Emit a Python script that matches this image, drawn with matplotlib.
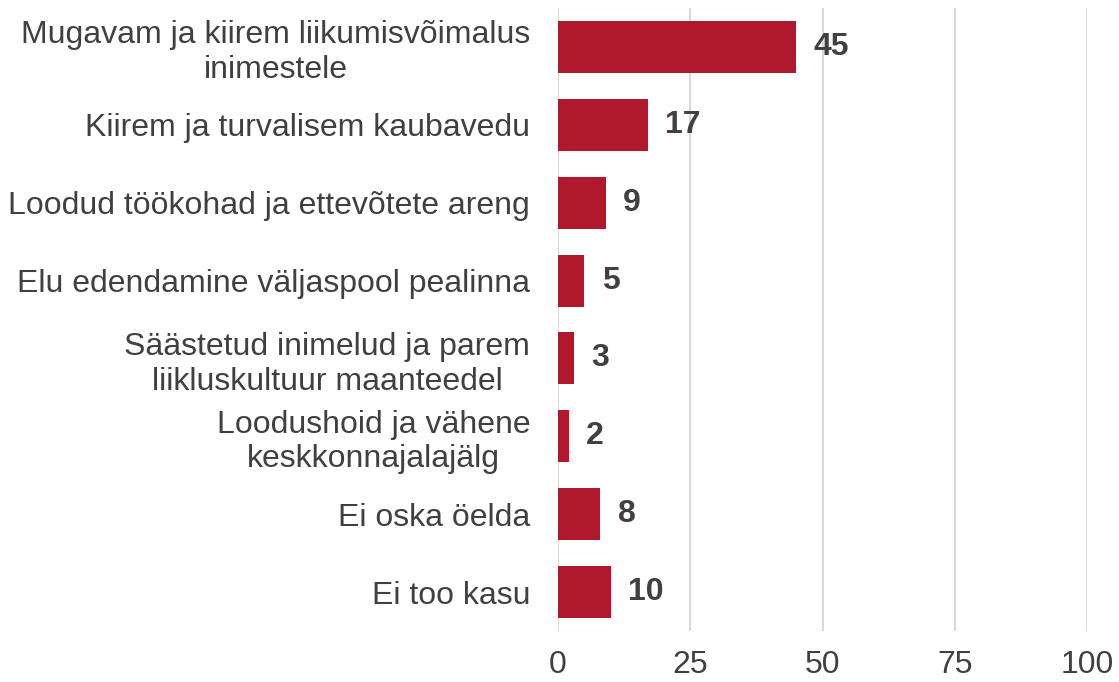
import matplotlib
matplotlib.use("Agg")
import matplotlib.pyplot as plt

categories = [
    "Mugavam ja kiirem liikumisvõimalus\ninimestele",
    "Kiirem ja turvalisem kaubavedu",
    "Loodud töökohad ja ettevõtete areng",
    "Elu edendamine väljaspool pealinna",
    "Säästetud inimelud ja parem\nliikluskultuur maanteedel",
    "Loodushoid ja vähene\nkeskkonnajalajälg",
    "Ei oska öelda",
    "Ei too kasu",
]
values = [45, 17, 9, 5, 3, 2, 8, 10]
xticks = [0, 25, 50, 75, 100]

plt.rcParams['font.family'] = ['Liberation Sans', 'DejaVu Sans']
text_color = "#404040"
bar_color = "#B0182D"

fig = plt.figure(figsize=(11.19, 6.82), dpi=100)
ax = fig.add_axes([558 / 1119, 1 - 631 / 682, (1087 - 558) / 1119, (631 - 8) / 682])

ypos = list(range(len(categories)))
ax.barh(ypos, values, height=0.667, color=bar_color, zorder=3)

for y, v in zip(ypos, values):
    ax.text(v + 3.3, y, str(v), va="center", ha="left", fontsize=23,
            fontweight="bold", color=text_color)

ax.set_xlim(0, 100)
ax.set_ylim(len(categories) - 0.5, -0.5)
ax.set_xticks(xticks)
ax.set_xticklabels([str(t) for t in xticks])
ax.set_yticks(ypos)
ax.set_yticklabels(categories, multialignment="center")
ax.tick_params(axis="y", length=0, pad=20, labelsize=23, labelcolor=text_color)
ax.tick_params(axis="x", length=0, pad=14, labelsize=23, labelcolor=text_color)
ax.grid(axis="x", color="#D9D9D9", linewidth=1.5, zorder=0)
for s in ax.spines.values():
    s.set_visible(False)

fig.savefig("out.png", dpi=100)
